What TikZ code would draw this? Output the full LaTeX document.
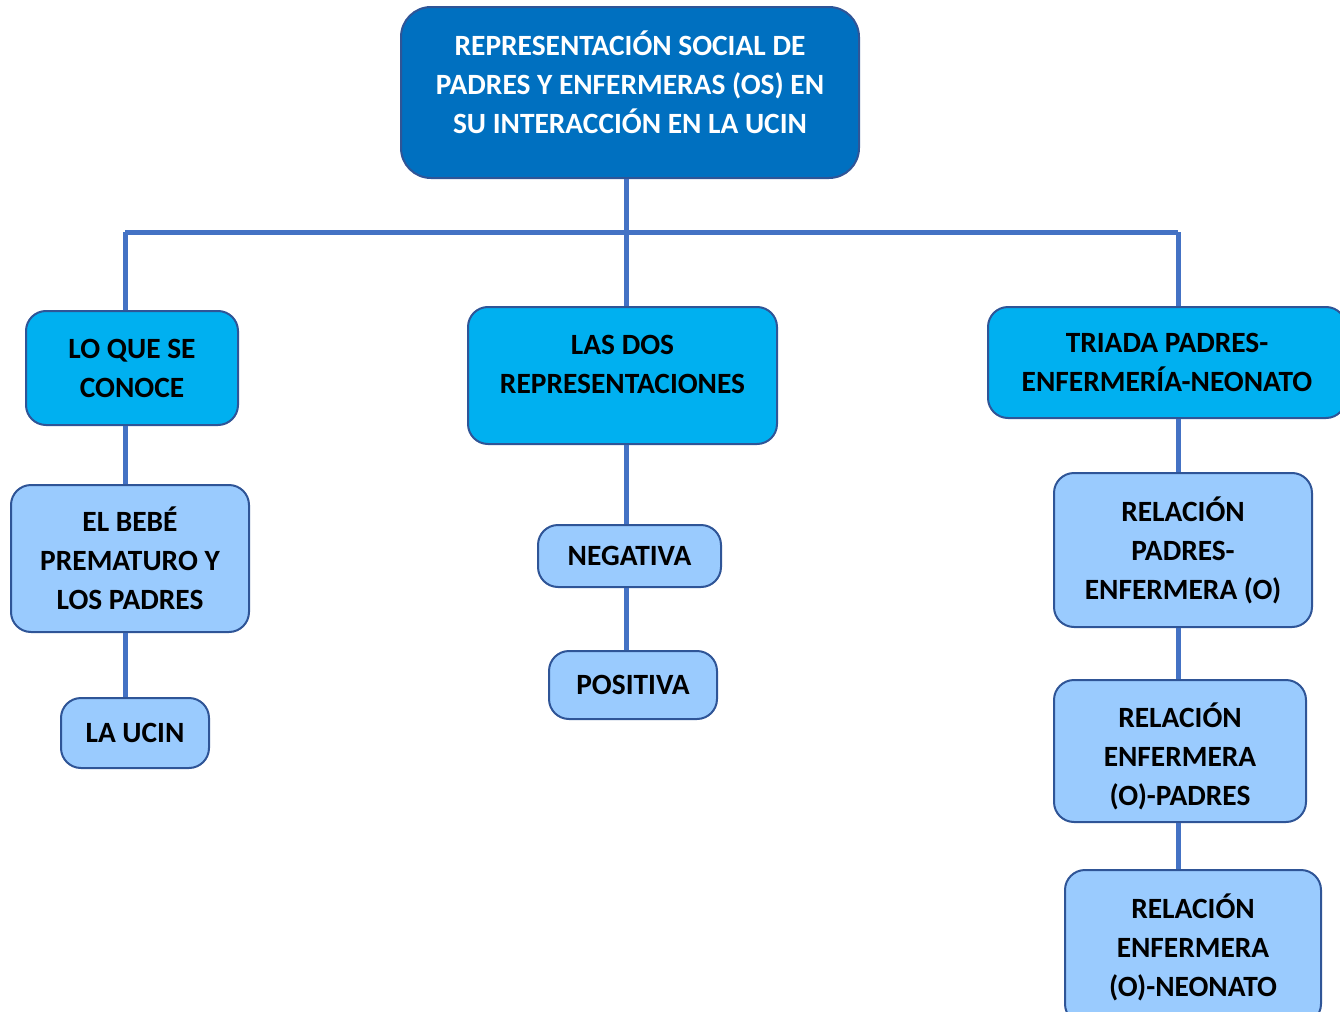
\documentclass[tikz,border=0pt]{standalone}
\usepackage{fontspec}
\setmainfont{Carlito}
\usepackage{tikz}
\usetikzlibrary{positioning}

\definecolor{rootblue}{HTML}{0070C0}
\definecolor{topicblue}{HTML}{00B0F0}
\definecolor{itemblue}{HTML}{9ACBFE}
\definecolor{edgeblue}{HTML}{2F5597}
\definecolor{linkblue}{HTML}{4472C4}

\begin{document}
\begin{tikzpicture}[x=0.5pt, y=-0.5pt, node distance=30pt,
  font=\bfseries\fontsize{14.7pt}{19.5pt}\selectfont,
  box/.style={draw=edgeblue, line width=1pt, align=center, inner sep=2pt},
  root node/.style={box, fill=rootblue, text=white, rounded corners=15pt},
  topic node/.style={box, fill=topicblue, rounded corners=10pt},
  item node/.style={box, fill=itemblue, rounded corners=10pt},
  link/.style={draw=linkblue, line width=2.5pt}]

\useasboundingbox (0,0) rectangle (1340,1012);

\coordinate (jL) at (125,232);
\coordinate (jM) at (626,232);
\coordinate (jR) at (1178,232);

% boxes
\node[root node, minimum width=229pt, minimum height=85.5pt] (root) at (630,92.5)
  {REPRESENTACIÓN SOCIAL DE\\PADRES Y ENFERMERAS (OS) EN\\SU INTERACCIÓN EN LA UCIN\\[-9pt]\mbox{}};

\node[topic node, minimum width=106pt, minimum height=57pt] (conoce) at (132,368)
  {LO QUE SE\\CONOCE};
\node[topic node, minimum width=154.5pt, minimum height=68.5pt] (dos) at (622.5,375.5)
  {LAS DOS\\REPRESENTACIONES\\[-8.5pt]\mbox{}};
\node[topic node, minimum width=179pt, minimum height=55.5pt] (triada) at (1167,362.5)
  {TRIADA PADRES-\\ENFERMERÍA-NEONATO};

\node[item node, minimum width=119pt, minimum height=73.5pt] (bebe) [below=29pt of conoce, xshift=-1pt]
  {EL BEBÉ\\PREMATURO Y\\LOS PADRES};
\node[item node, minimum width=74pt, minimum height=35pt] (ucin) [below=32pt of bebe, xshift=2.5pt]
  {LA UCIN};

\node[item node, minimum width=91.5pt, minimum height=31pt] (neg) [below=39.5pt of dos, xshift=3.5pt]
  {NEGATIVA};
\node[item node, minimum width=84pt, minimum height=34pt] (pos) [below=31pt of neg, xshift=1.75pt]
  {POSITIVA};

\node[item node, minimum width=129pt, minimum height=77pt] (rel1) [below=26.5pt of triada, xshift=8pt]
  {RELACIÓN\\PADRES-\\ENFERMERA (O)};
\node[item node, minimum width=126pt, minimum height=71pt] (rel2) [below=25.5pt of rel1, xshift=-1.5pt]
  {\mbox{}\\[-1.5pt]RELACIÓN\\ENFERMERA\\(O)-PADRES};
\node[item node, minimum width=128pt, minimum height=77pt] (rel3) [below=23pt of rel2, xshift=6.5pt]
  {RELACIÓN\\ENFERMERA\\(O)-NEONATO};

% connectors
\draw[link] (jL) -- (jR);
\draw[link] (jM |- root.south) -- (jM |- dos.north);
\draw[link] (jL) -- (jL |- conoce.north);
\draw[link] (jR) -- (jR |- triada.north);

\draw[link] (jL |- conoce.south) -- (jL |- bebe.north);
\draw[link] (jL |- bebe.south) -- (jL |- ucin.north);

\draw[link] (jM |- dos.south) -- (jM |- neg.north);
\draw[link] (jM |- neg.south) -- (jM |- pos.north);

\draw[link] (jR |- triada.south) -- (jR |- rel1.north);
\draw[link] (jR |- rel1.south) -- (jR |- rel2.north);
\draw[link] (jR |- rel2.south) -- (jR |- rel3.north);

\end{tikzpicture}
\end{document}
